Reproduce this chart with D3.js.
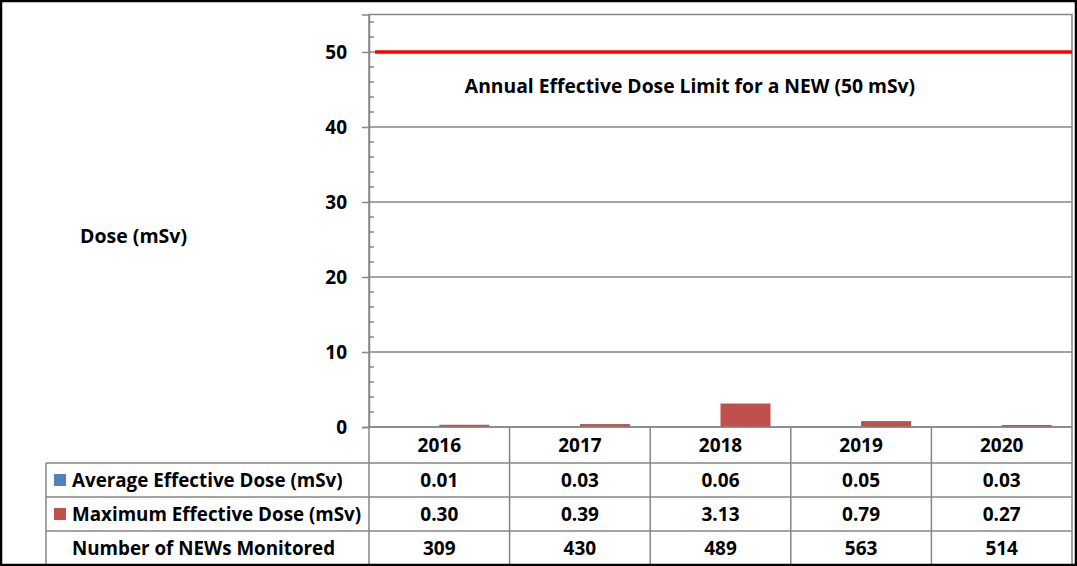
<!DOCTYPE html>
<html><head><meta charset="utf-8">
<script src="https://cdn.jsdelivr.net/npm/d3@7"></script>
<style>body{margin:0;background:#fff}svg{display:block}text{font-family:"Open Sans",sans-serif;font-weight:bold;fill:#000}</style>
</head><body><svg id="c" width="1077" height="566"></svg>
<script>
const years = ["2016","2017","2018","2019","2020"];
const avgDose = [0.01,0.03,0.06,0.05,0.03];
const maxDose = [0.30,0.39,3.13,0.79,0.27];
const monitored = [309,430,489,563,514];
const yTicks = [0,10,20,30,40,50];
const limitValue = 50;
const seriesNames = ["Average Effective Dose (mSv)","Maximum Effective Dose (mSv)","Number of NEWs Monitored"];
const colors = ["#4f81bd","#c0504d"];

const svg = d3.select("#c");
const L=369, R=1072, T=14.5, B=427;
const grey="#868686";
const x = d3.scaleBand().domain(years).range([L,R]);
const y = d3.scaleLinear().domain([0,55]).range([B,T]);
const bw = 50;

svg.append("g").selectAll("line").data(yTicks.filter(d=>d>0)).join("line")
 .attr("x1",L).attr("x2",R).attr("y1",d=>y(d)).attr("y2",d=>y(d))
 .attr("stroke",grey).attr("stroke-width",1.5);
svg.append("rect").attr("x",L).attr("y",T).attr("width",R-L).attr("height",B-T)
 .attr("fill","none").attr("stroke",grey).attr("stroke-width",1.5);

const g = svg.append("g");
years.forEach((yr,i)=>{
  const cx = x(yr)+x.bandwidth()/2;
  g.append("rect").attr("x",cx-bw).attr("width",bw).attr("y",y(avgDose[i])).attr("height",B-y(avgDose[i])).attr("fill",colors[0]);
  g.append("rect").attr("x",cx).attr("width",bw).attr("y",y(maxDose[i])).attr("height",B-y(maxDose[i])).attr("fill",colors[1]);
});

const yAxis = d3.axisLeft(y).tickValues(yTicks).tickSize(7).tickPadding(15).tickFormat(d3.format("d"));
const ax = svg.append("g").attr("transform",`translate(${L},0)`).call(yAxis);
ax.select(".domain").attr("stroke",grey).attr("stroke-width",1.5);
ax.selectAll(".tick line").attr("stroke",grey).attr("stroke-width",1.5);
ax.selectAll(".tick text").style("font-size","19px").attr("fill","#000").attr("dy","0.36em");
const minor = d3.range(0,55.01,2).filter(v=>v%10!==0);
svg.append("g").selectAll("line").data(minor).join("line")
 .attr("x1",L).attr("x2",L+5).attr("y1",d=>y(d)).attr("y2",d=>y(d))
 .attr("stroke",grey).attr("stroke-width",1.5);

svg.append("line").attr("x1",L+6).attr("x2",R).attr("y1",y(limitValue)).attr("y2",y(limitValue))
 .attr("stroke","#ff0000").attr("stroke-width",3.5);
svg.append("text").attr("x",690).attr("y",93).attr("text-anchor","middle").style("font-size","19.3px")
 .text("Annual Effective Dose Limit for a NEW (50 mSv)");

svg.append("text").attr("x",80).attr("y",243).style("font-size","19.5px").text("Dose (mSv)");

const rowsY = [427,463,497,531,566];
const TL = 46;
const tg = svg.append("g");
rowsY.slice(0,4).forEach((ry,i)=>{
  tg.append("line").attr("x1", i===0?L:TL).attr("x2",R).attr("y1",ry).attr("y2",ry).attr("stroke",grey).attr("stroke-width",1.5);
});
years.forEach(yr=>{
  tg.append("line").attr("x1",x(yr)).attr("x2",x(yr)).attr("y1",B).attr("y2",566).attr("stroke",grey).attr("stroke-width",1.5);
});
tg.append("line").attr("x1",R).attr("x2",R).attr("y1",B).attr("y2",566).attr("stroke",grey).attr("stroke-width",1.5);
tg.append("line").attr("x1",TL).attr("x2",TL).attr("y1",463).attr("y2",566).attr("stroke",grey).attr("stroke-width",1.5);

const rowData = [years, avgDose.map(d=>d.toFixed(2)), maxDose.map(d=>d.toFixed(2)), monitored.map(String)];
rowData.forEach((arr,ri)=>{
  const cy = (rowsY[ri]+rowsY[ri+1])/2;
  arr.forEach((v,ci)=>{
    tg.append("text").attr("x",x(years[ci])+x.bandwidth()/2).attr("y",cy).attr("dy","0.36em")
      .attr("text-anchor","middle").style("font-size","19px").text(v);
  });
});
seriesNames.forEach((n,i)=>{
  const cy = (rowsY[i+1]+rowsY[i+2])/2;
  if(i<2) tg.append("rect").attr("x",54).attr("y",cy-6).attr("width",12).attr("height",12).attr("fill",colors[i]);
  tg.append("text").attr("x",72).attr("y",cy).attr("dy","0.36em").style("font-size","18.8px").text(n);
});

svg.append("rect").attr("x",1).attr("y",1).attr("width",1075).attr("height",564).attr("fill","none").attr("stroke","#000").attr("stroke-width",2.5);
</script></body></html>
